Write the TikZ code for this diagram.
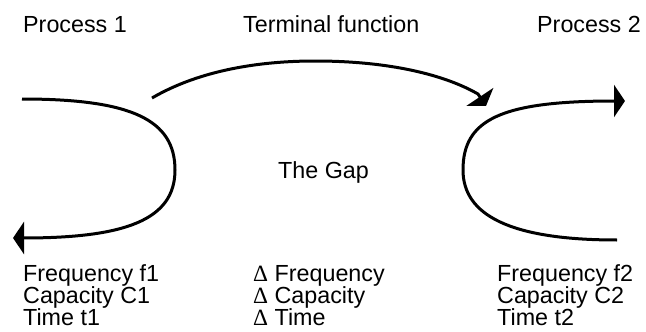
\documentclass[tikz,border=0pt]{standalone}
\usepackage{fontspec}
\setmainfont{Liberation Sans}
\newfontfamily\grkfont{Liberation Serif}
\usetikzlibrary{arrows.meta}
\tikzset{
  lbl/.style={anchor=base west, inner sep=0pt, font=\fontsize{23.3}{26}\selectfont},
  flow/.style={line width=3pt, -{Triangle[length=11pt, width=32pt]}},
  plain/.style={line width=3pt}
}
\newcommand{\dlt}{{\grkfont Δ}}
\begin{document}
\begin{tikzpicture}[x=1pt, y=-1pt]
\useasboundingbox (0,0) rectangle (646,332);

% headings
\node[lbl] (p1) at (23,32) {Process 1};
\node[lbl] (tf) at (243,32) {Terminal function};
\node[lbl] (p2) at (537,32) {Process 2};
\node[lbl] (gap) at (278,178) {The Gap};

% process 1 loop
\coordinate (l1) at (22,99);
\coordinate (l2) at (175,170);
\coordinate (l3) at (13,238);
\draw[flow] (l1) .. controls (132,99) and (175,120) .. (l2)
  .. controls (175,220) and (125,238) .. (l3);

% process 2 loop
\coordinate (r1) at (617,240);
\coordinate (r2) at (463,170);
\coordinate (r3) at (625,101);
\draw[flow] (r1) .. controls (510,240) and (463,215) .. (r2)
  .. controls (463,120) and (500,101) .. (r3);

% terminal function arc
\coordinate (t1) at (152,98);
\coordinate (t2) at (315,61);
\coordinate (t3) at (478,94);
\coordinate (t4) at (486,106);
\draw[flow] (t1) .. controls (200,70) and (260,61) .. (t2)
  .. controls (390,61) and (445,75) .. (t3) -- (t4);

% process 1 figures
\node[lbl] (f1) at (23,281) {Frequency f1};
\node[lbl] (c1) at (23,303) {Capacity C1};
\node[lbl] (d1) at (23,325) {Time t1};

% differences
\node[lbl] (df) at (253,281) {\dlt\ Frequency};
\node[lbl] (dc) at (253,303) {\dlt\ Capacity};
\node[lbl] (dt) at (253,325) {\dlt\ Time};

% process 2 figures
\node[lbl] (f2) at (497,281) {Frequency f2};
\node[lbl] (c2) at (497,303) {Capacity C2};
\node[lbl] (d2) at (497,325) {Time t2};
\end{tikzpicture}
\end{document}
